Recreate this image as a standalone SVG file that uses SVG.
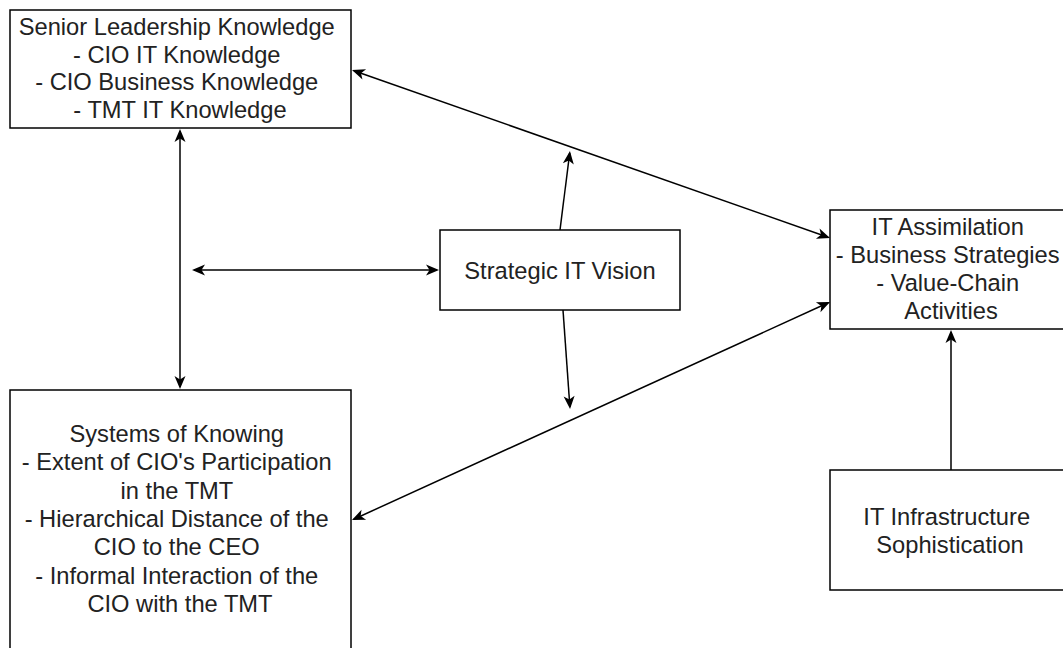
<svg xmlns="http://www.w3.org/2000/svg" width="1063" height="648" viewBox="0 0 1063 648">
  <style>
    .box { fill: #ffffff; stroke: #000000; stroke-width: 1.5; }
    .lbl { font-family: "Liberation Sans", Arial, Helvetica, sans-serif; font-size: 23.7px; fill: #222222; text-anchor: middle; }
    .edge { fill: none; stroke: #000000; stroke-width: 1.5; }
    .one { marker-end: url(#arrow); }
    .two { marker-start: url(#arrow); marker-end: url(#arrow); }
  </style>
  <defs>
    <marker id="arrow" viewBox="0 0 14 12" refX="12" refY="6" markerWidth="14" markerHeight="12" markerUnits="userSpaceOnUse" orient="auto-start-reverse">
      <path d="M1,0.5 L14,6 L1,11.5 L4.5,6 Z" fill="#000000"/>
    </marker>
  </defs>
  <rect width="1063" height="648" fill="#ffffff"/>

  <g id="connectors">
    <!-- Senior Leadership Knowledge <-> Systems of Knowing -->
    <line class="edge two" x1="180" y1="131" x2="180" y2="387"/>
    <!-- Strategic IT Vision moderates the vertical link -->
    <line class="edge two" x1="194" y1="270" x2="437" y2="270"/>
    <!-- Strategic IT Vision moderates the upper diagonal -->
    <line class="edge one" x1="560" y1="230" x2="569.7" y2="153"/>
    <!-- Strategic IT Vision moderates the lower diagonal -->
    <line class="edge one" x1="563" y1="310" x2="569.9" y2="407"/>
    <!-- Senior Leadership Knowledge <-> IT Assimilation -->
    <line class="edge two" x1="353.9" y1="70.7" x2="828.1" y2="237.3"/>
    <!-- Systems of Knowing <-> IT Assimilation -->
    <line class="edge two" x1="353.8" y1="519.2" x2="828.2" y2="302.8"/>
    <!-- IT Infrastructure Sophistication -> IT Assimilation -->
    <line class="edge one" x1="951" y1="470" x2="951" y2="332"/>
  </g>

  <g id="senior-leadership">
    <rect class="box" x="10" y="10" width="341" height="118"/>
    <text class="lbl">
      <tspan x="180" y="35">Senior Leadership Knowledge</tspan>
      <tspan x="180" y="62.7">- CIO IT Knowledge</tspan>
      <tspan x="180" y="90.3">- CIO Business Knowledge</tspan>
      <tspan x="180" y="118">- TMT IT Knowledge</tspan>
    </text>
  </g>

  <g id="strategic-vision">
    <rect class="box" x="440" y="230" width="240" height="80"/>
    <text class="lbl" x="560" y="278.5">Strategic IT Vision</text>
  </g>

  <g id="it-assimilation">
    <rect class="box" x="830" y="210" width="240" height="119"/>
    <text class="lbl">
      <tspan x="951" y="235">IT Assimilation</tspan>
      <tspan x="951" y="263">- Business Strategies</tspan>
      <tspan x="951" y="291">- Value-Chain</tspan>
      <tspan x="951" y="319">Activities</tspan>
    </text>
  </g>

  <g id="systems-of-knowing">
    <rect class="box" x="10" y="390" width="341" height="260"/>
    <text class="lbl">
      <tspan x="180" y="442">Systems of Knowing</tspan>
      <tspan x="180" y="470.3">- Extent of CIO's Participation</tspan>
      <tspan x="180" y="498.6">in the TMT</tspan>
      <tspan x="180" y="527">- Hierarchical Distance of the</tspan>
      <tspan x="180" y="555.3">CIO to the CEO</tspan>
      <tspan x="180" y="583.6">- Informal Interaction of the</tspan>
      <tspan x="180" y="612">CIO with the TMT</tspan>
    </text>
  </g>

  <g id="it-infrastructure">
    <rect class="box" x="830" y="470" width="240" height="120"/>
    <text class="lbl">
      <tspan x="950" y="525">IT Infrastructure</tspan>
      <tspan x="950" y="553">Sophistication</tspan>
    </text>
  </g>
</svg>
